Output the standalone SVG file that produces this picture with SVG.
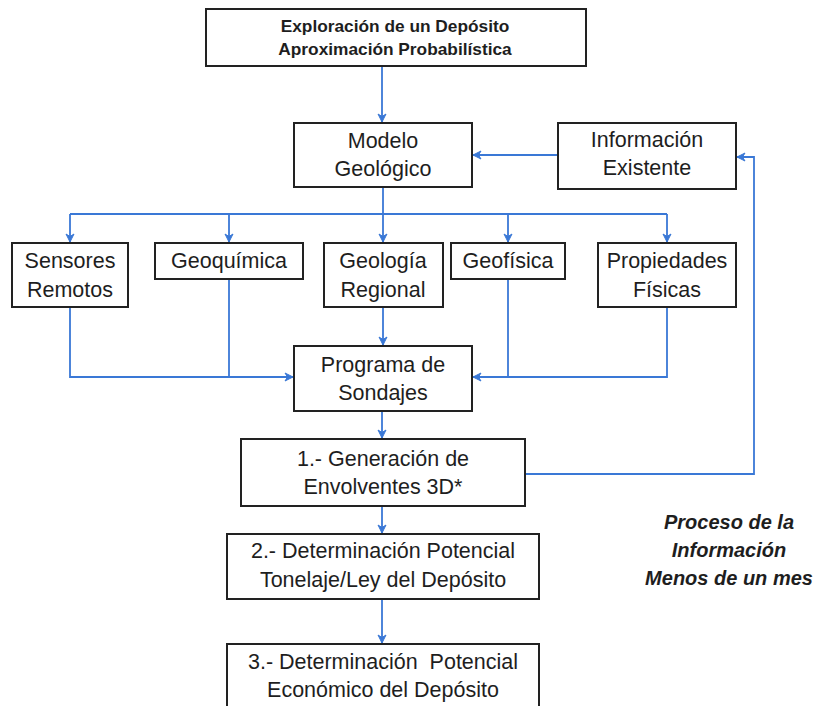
<svg xmlns="http://www.w3.org/2000/svg" width="817" height="706" viewBox="0 0 817 706">
<defs>
<marker id="ah" markerWidth="10" markerHeight="10" refX="9" refY="5" orient="auto" markerUnits="userSpaceOnUse">
<path d="M1,1 L9,5 L1,9 L3.5,5 Z" fill="#3a78d6" stroke="#3a78d6" stroke-width="1" stroke-linejoin="round"/>
</marker>
<style>
.box{fill:#ffffff;stroke:#222222;stroke-width:2}
.t{font-family:"Liberation Sans",Arial,sans-serif;font-size:21.5px;fill:#1e1e1e;text-anchor:middle}
.tb{font-family:"Liberation Sans",Arial,sans-serif;font-size:17.3px;font-weight:bold;fill:#1e1e1e;text-anchor:middle}
.ti{font-family:"Liberation Sans",Arial,sans-serif;font-size:20px;font-weight:bold;font-style:italic;fill:#1e1e1e;text-anchor:middle}
.c{fill:none;stroke:#3a78d6;stroke-width:1.8}
.ca{fill:none;stroke:#3a78d6;stroke-width:1.8;marker-end:url(#ah)}
</style>
</defs>
<rect width="817" height="706" fill="#ffffff"/>

<g id="connectors">
<path class="ca" d="M382,66 V122"/>
<path class="ca" d="M558,155 H473"/>
<path class="c" d="M383,187 V214" stroke-width="2.8"/>
<path class="c" d="M70,214 H667"/>
<path class="ca" d="M70,214 V242"/>
<path class="ca" d="M229,214 V242"/>
<path class="ca" d="M383,214 V242"/>
<path class="ca" d="M508,214 V242"/>
<path class="ca" d="M667,214 V242"/>
<path class="c" d="M229,279 V377"/>
<path class="ca" d="M70,307 V377 H293"/>
<path class="ca" d="M383,307 V345"/>
<path class="c" d="M508,279 V377"/>
<path class="ca" d="M667,307 V377 H473"/>
<path class="ca" d="M382,411 V438"/>
<path class="ca" d="M525,474 H754 V157 H737"/>
<path class="ca" d="M382,506 V533"/>
<path class="ca" d="M382,599 V643"/>
</g>

<g id="n-exploracion">
<rect class="box" x="206" y="9" width="380" height="57"/>
<text class="tb" x="395" y="32">Exploración de un Depósito</text>
<text class="tb" x="395" y="55">Aproximación Probabilística</text>
</g>

<g id="n-modelo">
<rect class="box" x="294" y="123" width="178" height="64"/>
<text class="t" x="383" y="148">Modelo</text>
<text class="t" x="383" y="176">Geológico</text>
</g>

<g id="n-informacion">
<rect class="box" x="558" y="123" width="178" height="66"/>
<text class="t" x="647" y="147">Información</text>
<text class="t" x="647" y="175">Existente</text>
</g>

<g id="n-sensores">
<rect class="box" x="12" y="243" width="116" height="64"/>
<text class="t" x="70" y="268">Sensores</text>
<text class="t" x="70" y="297">Remotos</text>
</g>

<g id="n-geoquimica">
<rect class="box" x="155" y="243" width="148" height="36"/>
<text class="t" x="229" y="268">Geoquímica</text>
</g>

<g id="n-geologia">
<rect class="box" x="324" y="243" width="119" height="64"/>
<text class="t" x="383" y="268">Geología</text>
<text class="t" x="383" y="297">Regional</text>
</g>

<g id="n-geofisica">
<rect class="box" x="451" y="243" width="114" height="36"/>
<text class="t" x="508" y="268">Geofísica</text>
</g>

<g id="n-propiedades">
<rect class="box" x="598" y="243" width="138" height="64"/>
<text class="t" x="667" y="268">Propiedades</text>
<text class="t" x="667" y="297">Físicas</text>
</g>

<g id="n-programa">
<rect class="box" x="294" y="346" width="178" height="65"/>
<text class="t" x="383" y="372">Programa de</text>
<text class="t" x="383" y="400">Sondajes</text>
</g>

<g id="n-generacion">
<rect class="box" x="241" y="439" width="284" height="67"/>
<text class="t" x="383" y="466">1.- Generación de</text>
<text class="t" x="383" y="494">Envolventes 3D*</text>
</g>

<g id="n-tonelaje">
<rect class="box" x="227" y="534" width="312" height="65"/>
<text class="t" x="383" y="558">2.- Determinación Potencial</text>
<text class="t" x="383" y="587">Tonelaje/Ley del Depósito</text>
</g>

<g id="n-economico">
<rect class="box" x="227" y="644" width="312" height="70"/>
<text class="t" x="383" y="669">3.- Determinación&#160; Potencial</text>
<text class="t" x="383" y="697">Económico del Depósito</text>
</g>

<g id="nota">
<text class="ti" x="729" y="529">Proceso de la</text>
<text class="ti" x="729" y="557">Información</text>
<text class="ti" x="729" y="585">Menos de un mes</text>
</g>
</svg>
